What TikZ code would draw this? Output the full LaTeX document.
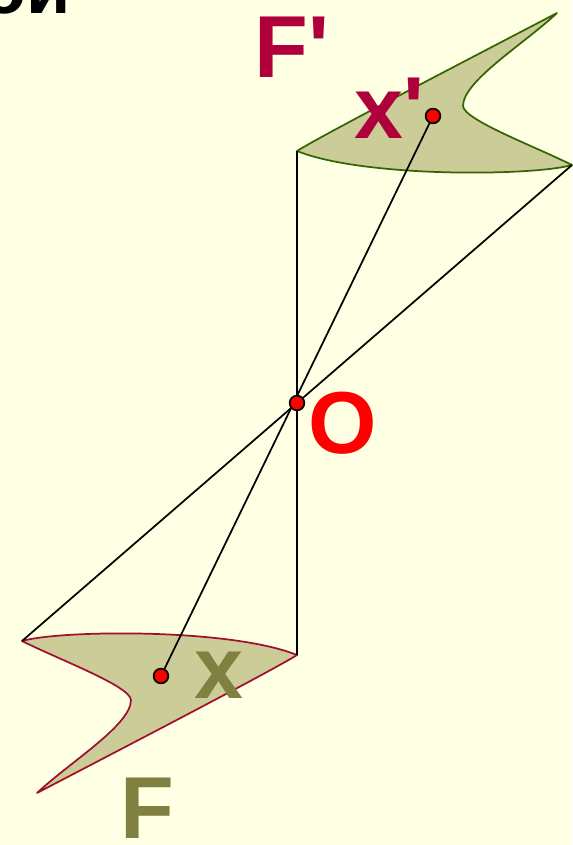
\documentclass[tikz,border=0pt]{standalone}
\usepackage{fontspec}
\setmainfont{Liberation Sans}
\definecolor{bgyellow}{HTML}{FFFFE3}
\definecolor{shapefill}{HTML}{CCCC99}
\definecolor{redline}{HTML}{A0102C}
\definecolor{greenline}{HTML}{336600}
\definecolor{crimson}{HTML}{B0003C}
\definecolor{olive}{HTML}{808040}
\begin{document}
\begin{tikzpicture}[x=0.75pt,y=-0.75pt,
  ray/.style={line width=1.3pt},
  figure/.style={fill=shapefill,line width=1.3pt,line join=round},
  dot/.style={circle,draw=black,fill=red,line width=1.3pt,inner sep=0pt,minimum size=11pt},
  big/.style={font=\fontsize{66}{66}\selectfont\bfseries,inner sep=0pt}]
  \fill[bgyellow] (0,0) rectangle (572,845);
  \useasboundingbox (0,0) rectangle (572,845);
  \coordinate (O) at (297,403);
  % figure F
  \coordinate (A) at (22,641);
  \coordinate (R) at (297,655);
  \coordinate (B) at (37,793);
  \coordinate (N) at (131,700);
  \filldraw[figure,draw=redline]
    (A) .. controls (60,630) and (230,628) .. (R)
    .. controls (270,672) and (100,760) .. (B)
    .. controls (70,762) and (131,725) .. (N)
    .. controls (130,686) and (60,660) .. (A) -- cycle;
  % figure F' (image of F)
  \begin{scope}[rotate around={180:(O)}]
    \coordinate (A') at (22,641);
    \coordinate (R') at (297,655);
    \filldraw[figure,draw=greenline]
      (22,641) .. controls (60,630) and (230,628) .. (297,655)
      .. controls (270,672) and (100,760) .. (37,793)
      .. controls (70,762) and (131,725) .. (131,700)
      .. controls (130,686) and (60,660) .. (22,641) -- cycle;
  \end{scope}
  \coordinate (X) at (161,676);
  \coordinate (X') at (433,116);
  \draw[ray] (R') -- (R);
  \draw[ray] (A) -- (A');
  \draw[ray] (X) -- (X');
  \node[dot] (x) at (X) {};
  \node[dot] (x') at (X') {};
  \node[dot] (o) at (O) {};
  % labels
  \node[big,anchor=base west,text=crimson] (fp) at (254,78) {F\textquotesingle};
  \node[big,anchor=base west,text=crimson] (xp) at (354,138) {x\textquotesingle};
  \node[big,anchor=base west,text=red] (ol) at (308,453) {O};
  \node[big,anchor=base west,text=olive] (xl) at (194,698) {x};
  \node[big,anchor=base west,text=olive] (fl) at (120,838) {F};
  \node[font=\fontsize{54}{54}\selectfont\bfseries,inner sep=0pt,anchor=base east] (title) at (71,14) {ой};
\end{tikzpicture}
\end{document}
